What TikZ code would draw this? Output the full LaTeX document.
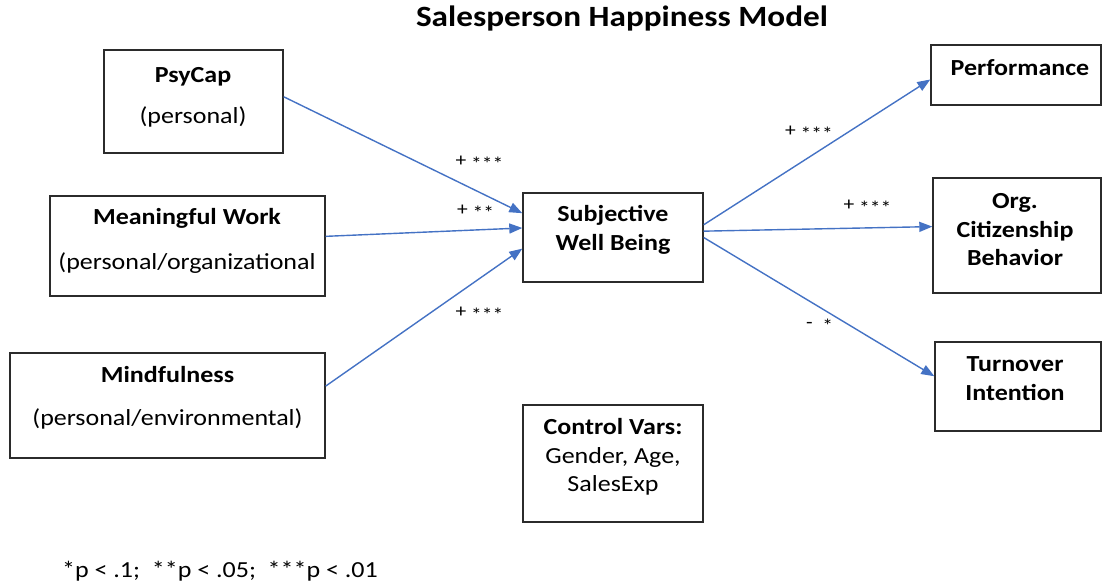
\documentclass[tikz,border=0pt]{standalone}
\usepackage{fontspec}
\setmainfont{Carlito}[FakeStretch=1.13]
\usetikzlibrary{arrows.meta}

\definecolor{arrowblue}{HTML}{4472C4}
\definecolor{boxgray}{HTML}{2B2B2B}

\newcommand{\sig}[1]{\raisebox{-4pt}{#1}}

\begin{document}
\begin{tikzpicture}[x=1pt,y=-1pt]
      \useasboundingbox (0,0) rectangle (1102,584);

      \node (title) at (622,18) {\fontsize{29.4}{34}\selectfont\bfseries Salesperson Happiness Model};

      % boxes
      \begin{scope}[every node/.style={draw=boxgray,line width=1.4pt,inner sep=0pt}]
        \node[minimum width=179pt,minimum height=103pt] (psy)  at (193.5,101.5) {};
        \node[minimum width=275pt,minimum height=100pt] (mw)   at (187.5,246)   {};
        \node[minimum width=315pt,minimum height=105pt] (mind) at (167.5,405.5) {};
        \node[minimum width=180pt,minimum height=89pt]  (swb)  at (613,237.5)   {};
        \node[minimum width=180pt,minimum height=117pt] (ctrl) at (613,463.5)   {};
        \node[minimum width=170pt,minimum height=60pt]  (perf) at (1016,75)     {};
        \node[minimum width=168pt,minimum height=115pt] (ocb)  at (1017,235.5)  {};
        \node[minimum width=166pt,minimum height=89pt]  (toi)  at (1018,386.5)  {};
      \end{scope}

      % box texts
      \begin{scope}[every node/.style={align=center,font=\fontsize{23}{28.5}\selectfont}]
        \node (psytxt)  at (193,97.5)  {\textbf{PsyCap}\\[13pt](personal)};
        \node (mwtxt)   at (187,241)   {\textbf{Meaningful Work}\\[16pt](personal/organizational};
        \node (mindtxt) at (167.5,398) {\textbf{Mindfulness}\\[14pt](personal/environmental)};
        \node (swbtxt)  at (613,230)   {\textbf{Subjective}\\\textbf{Well Being}};
        \node (ctrltxt) at (613,457)   {\textbf{Control Vars:}\\Gender, Age,\\SalesExp};
        \node (perftxt) at (1020,67.5) {\textbf{Performance}};
        \node (ocbtxt)  at (1015,230)  {\textbf{Org.}\\\textbf{Citizenship}\\\textbf{Behavior}};
        \node (toitxt)  at (1015,378.5) {\textbf{Turnover}\\\textbf{Intention}};
      \end{scope}

      % significance marks
      \begin{scope}[every node/.style={font=\fontsize{19}{22}\selectfont}]
        \node (s1) at (479.5,163) {+ \sig{***}};
        \node (s2) at (475.5,212) {+ \sig{**}};
        \node (s3) at (479.5,314) {+ \sig{***}};
        \node (s4) at (809,133)   {+ \sig{***}};
        \node (s5) at (867.5,207) {+ \sig{***}};
        \node (s6) at (819.5,326) {-\ \ \sig{*}};
      \end{scope}

      \node (note) at (220,571) {\fontsize{23}{27}\selectfont *p < .1;\ \ **p < .05;\ \ ***p < .01};

      % paths
      \begin{scope}[every edge/.style={draw=arrowblue,line width=1.4pt,-{Triangle[length=13pt,width=10pt]}}]
        \path (psy.3)  edge (swb.165.4);
        \path (mw.4)   edge (swb.174.6);
        \path (mind.7) edge (swb.187.9);
        \path (swb.8)  edge (perf.183.4);
        \path (swb.4)  edge (ocb.174.2);
        \path (swb.0)  edge (toi.173.5);
      \end{scope}

    \end{tikzpicture}
\end{document}
